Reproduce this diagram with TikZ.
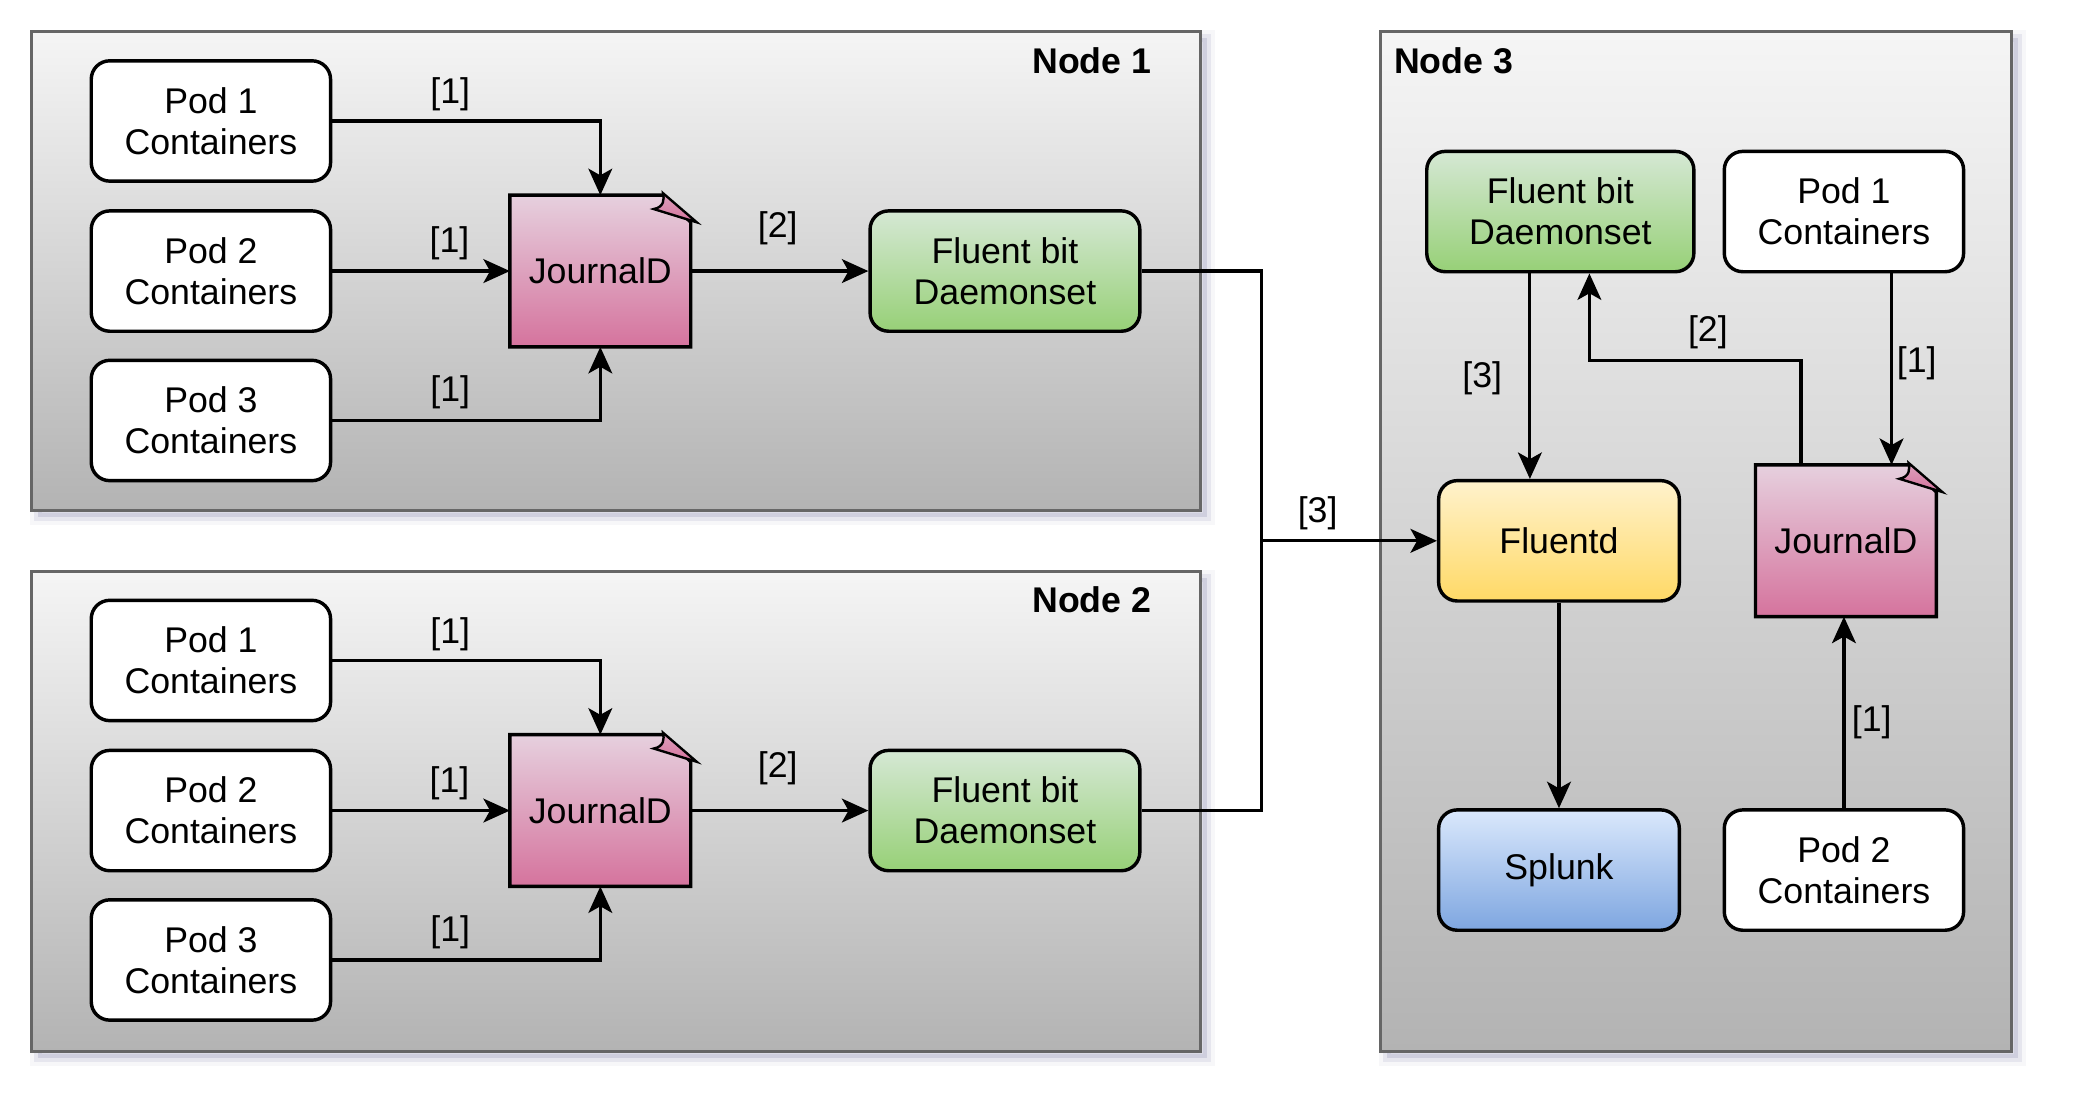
\documentclass[tikz,border=0pt]{standalone}
\usepackage{fontspec}
\setmainfont{Liberation Sans}
\usetikzlibrary{arrows.meta,calc}
\definecolor{boxtop}{HTML}{F5F5F5}
\definecolor{boxbot}{HTML}{B3B3B3}
\definecolor{boxline}{HTML}{666666}
\definecolor{shadowc}{HTML}{9A9AB8}
\definecolor{greentop}{HTML}{D5E8D4}
\definecolor{greenbot}{HTML}{97D077}
\definecolor{pinktop}{HTML}{E6D0DE}
\definecolor{pinkbot}{HTML}{D5739D}
\definecolor{yellowtop}{HTML}{FFF2CC}
\definecolor{yellowbot}{HTML}{FFD966}
\definecolor{bluetop}{HTML}{DAE8FC}
\definecolor{bluebot}{HTML}{7EA6E0}
\pgfdeclarelayer{back}
\pgfdeclarelayer{paper}
\pgfsetlayers{back,paper,main}
% page with a curled corner behind a journal node
\newcommand{\journalpage}[1]{%
  \begin{pgfonlayer}{paper}
    \draw[line width=1.3pt, top color=pinktop, bottom color=pinkbot]
      (#1.north west) -- ([xshift=-10.5pt]#1.north east) -- ([yshift=-10.25pt]#1.north east)
      -- (#1.south east) -- (#1.south west) -- cycle;
    \draw[line width=0.9pt, top color=pinktop!50!pinkbot, bottom color=pinkbot]
      ([xshift=-10.5pt,yshift=0.75pt]#1.north east) -- ([xshift=2.25pt,yshift=-10.25pt]#1.north east)
      -- ([xshift=-14pt,yshift=-5.25pt]#1.north east)
      .. controls ([xshift=-10pt,yshift=-4.5pt]#1.north east) and ([xshift=-10pt,yshift=-1.5pt]#1.north east)
      .. ([xshift=-10.5pt,yshift=0.75pt]#1.north east) -- cycle;
  \end{pgfonlayer}}
\begin{document}
\begin{tikzpicture}[x=0.5pt,y=-0.5pt,
  font=\fontsize{13.5}{15.5}\selectfont,
  >={Stealth[length=10pt,width=9pt,inset=2.5pt]},
  cluster/.style={draw=boxline, line width=1.1pt, top color=boxtop, bottom color=boxbot, inner sep=0pt,
    preaction={fill=shadowc, fill opacity=.3, transform canvas={shift={(2.5pt,-2.5pt)}}},
    preaction={draw=shadowc, line width=3pt, draw opacity=.18, transform canvas={shift={(2.5pt,-2.5pt)}}},
    preaction={draw=shadowc, line width=6pt, draw opacity=.08, transform canvas={shift={(2.5pt,-2.5pt)}}}},
  title/.style={font=\fontsize{13.5}{15.5}\selectfont\bfseries, inner sep=0pt},
  card/.style={draw, line width=1.3pt, rounded corners=7pt, align=center, inner sep=0pt, minimum height=45.5pt},
  pod/.style={card, fill=white, minimum width=90.5pt},
  fluentbit/.style={card, top color=greentop, bottom color=greenbot, minimum width=102pt},
  collector/.style={card, top color=yellowtop, bottom color=yellowbot, minimum width=91pt},
  sink/.style={card, top color=bluetop, bottom color=bluebot, minimum width=91pt},
  journal/.style={minimum width=68pt, minimum height=57pt, inner sep=0pt},
  link/.style={line width=1.2pt},
  flow/.style={link, ->},
  tag/.style={inner sep=0pt}]
  \useasboundingbox (0,0) rectangle (1570,844);
  % Kubernetes nodes
  \begin{pgfonlayer}{back}
    \node[cluster, minimum width=442pt, minimum height=181pt] (n1) at (466,205) {};
    \node[cluster, minimum width=442pt, minimum height=181.5pt] (n2) at (466,613.5) {};
    \node[cluster, minimum width=238.5pt, minimum height=385.5pt] (n3) at (1282.5,409.5) {};
  \end{pgfonlayer}
  \node[title, anchor=east] (t1) at ([xshift=-19pt,yshift=-11.5pt]n1.north east) {Node 1};
  \node[title, anchor=east] (t2) at ([xshift=-19pt,yshift=-11.5pt]n2.north east) {Node 2};
  \node[title, anchor=west] (t3) at ([xshift=5.5pt,yshift=-11.5pt]n3.north west) {Node 3};
  % Node 1 and Node 2
  \foreach \n/\dy in {1/0,2/408}{
    \node[pod] (p\n1) at (159.5,91.5+\dy) {Pod 1\\Containers};
    \node[pod] (p\n2) at (159.5,205+\dy) {Pod 2\\Containers};
    \node[pod] (p\n3) at (159.5,318+\dy) {Pod 3\\Containers};
    \node[journal] (jd\n) at (454,205+\dy) {JournalD};
    \journalpage{jd\n}
    \node[fluentbit] (fb\n) at (760,205+\dy) {Fluent bit\\Daemonset};
    \draw[flow] (p\n1.east) -| node[tag, pos=.22, yshift=10pt] (a\n1) {[1]} (jd\n.north);
    \draw[flow] (p\n2) -- node[tag, pos=.66, yshift=10.5pt] (a\n2) {[1]} (jd\n);
    \draw[flow] (p\n3.east) -| node[tag, pos=.22, yshift=10.5pt] (a\n3) {[1]} (jd\n.south);
    \draw[flow] (jd\n) -- node[tag, pos=.49, yshift=16pt] (b\n) {[2]} (fb\n);
  }
  % Node 3
  \node[fluentbit, minimum width=101pt] (fb3) at (1180,160) {Fluent bit\\Daemonset};
  \node[pod] (p31) at (1394.5,160) {Pod 1\\Containers};
  \node[collector] (fd) at (1179,409) {Fluentd};
  \node[journal] (jd3) at (1396,409) {JournalD};
  \journalpage{jd3}
  \node[sink] (sp) at (1179,658) {Splunk};
  \node[pod] (p32) at (1394.5,658) {Pod 2\\Containers};
  % forwarding to Fluentd
  \coordinate (bus) at (954,409);
  \draw[link] (fb1.east) -| (bus);
  \draw[link] (fb2.east) -| (bus);
  \draw[flow] (bus) -- node[tag, pos=.32, yshift=10.5pt] (c3) {[3]} (fd.west);
  \coordinate (fb3out) at ([xshift=-11.5pt]fb3.south);
  \draw[flow] (fb3out) -- node[tag, pos=.51, xshift=-18pt] (c33) {[3]} (fb3out |- fd.north);
  \draw[flow] (fd) -- (sp);
  \coordinate (jd3out) at ([xshift=-17pt]jd3.north);
  \draw[flow] (jd3out) -- ++(0,-79) -| node[tag, pos=.22, yshift=10.5pt] (b3) {[2]} ([xshift=11pt]fb3.south);
  \coordinate (p31out) at ([xshift=18pt]p31.south);
  \draw[flow] (p31out) -- node[tag, pos=.47, xshift=9.5pt] (a31) {[1]} (p31out |- jd3.north);
  \draw[flow] (p32) -- node[tag, pos=.45, xshift=10.5pt] (a32) {[1]} (p32 |- jd3.south);
\end{tikzpicture}
\end{document}
